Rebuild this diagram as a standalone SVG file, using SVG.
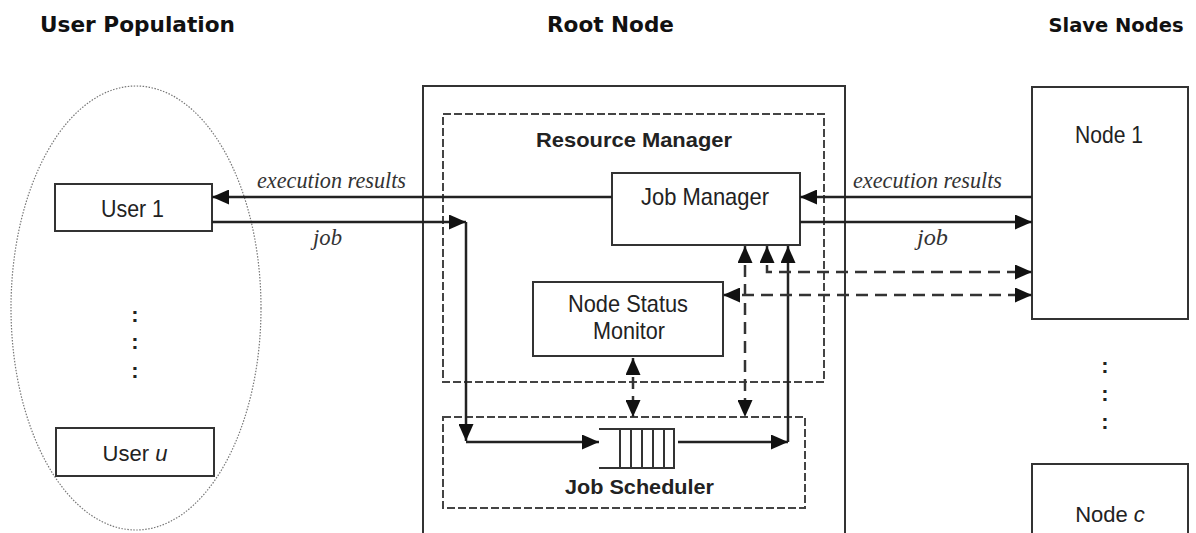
<svg xmlns="http://www.w3.org/2000/svg" width="1196" height="533" viewBox="0 0 1196 533">
<style>
.title{font-family:"DejaVu Sans",sans-serif;font-weight:bold;font-size:22px;fill:#111}
.lbl{font-family:"Liberation Sans",Arial,sans-serif;font-size:24px;fill:#222}
.lbl2{font-family:"Liberation Sans",Arial,sans-serif;font-size:22px;fill:#222}
.blbl{font-family:"Liberation Sans",Arial,sans-serif;font-size:21px;font-weight:bold;fill:#222}
.it{font-family:"Liberation Serif","Times New Roman",serif;font-style:italic;font-size:24px;fill:#333}
.box{fill:#fff;stroke:#333;stroke-width:2}
.dbox{fill:none;stroke:#444;stroke-width:2;stroke-dasharray:8 3}
.solid{fill:none;stroke:#222;stroke-width:2.5}
.dash{fill:none;stroke:#333;stroke-width:2.5;stroke-dasharray:12 7}
.dots{font-family:"Liberation Sans",Arial,sans-serif;font-size:22px;font-weight:bold;fill:#222}
</style>
<defs>
<marker id="ah" viewBox="0 0 17 15" refX="17" refY="7.5" markerWidth="17" markerHeight="15" orient="auto-start-reverse" markerUnits="userSpaceOnUse">
<path d="M0,0 L17,7.5 L0,15 z" fill="#111"/>
</marker>
</defs>
<rect width="1196" height="533" fill="#fff"/>

<g id="titles">
<text class="title" x="40" y="32" textLength="195" lengthAdjust="spacingAndGlyphs">User Population</text>
<text class="title" x="547" y="32" textLength="127" lengthAdjust="spacingAndGlyphs">Root Node</text>
<text class="title" x="1116" y="32" style="font-size:19.5px" text-anchor="middle">Slave Nodes</text>
</g>

<g id="user-population">
<ellipse cx="136" cy="308" rx="125" ry="222" fill="none" stroke="#777" stroke-width="1.2" stroke-dasharray="1.5 1.5"/>
</g>
<g id="user1">
<rect class="box" x="55" y="184" width="157" height="47"/>
<text class="lbl" x="101" y="217" textLength="63" lengthAdjust="spacingAndGlyphs">User 1</text>
</g>
<g id="user-dots">
<text class="dots" x="135" y="322" text-anchor="middle">:</text>
<text class="dots" x="135" y="349" text-anchor="middle">:</text>
<text class="dots" x="135" y="378" text-anchor="middle">:</text>
</g>
<g id="useru">
<rect class="box" x="56" y="428" width="158" height="48"/>
<text class="lbl2" x="135" y="461" text-anchor="middle">User <tspan font-style="italic">u</tspan></text>
</g>

<g id="root-node">
<rect class="box" x="423" y="86" width="422" height="460"/>
</g>
<g id="resource-manager">
<rect class="dbox" x="443" y="114" width="381" height="268"/>
<text class="blbl" x="536" y="147" textLength="196" lengthAdjust="spacingAndGlyphs">Resource Manager</text>
</g>
<g id="job-manager">
<rect class="box" x="612" y="173" width="188" height="72"/>
<text class="lbl" x="641" y="205" textLength="128" lengthAdjust="spacingAndGlyphs">Job Manager</text>
</g>
<g id="node-status-monitor">
<rect class="box" x="533" y="282" width="190" height="74"/>
<text class="lbl" x="568" y="312" textLength="120" lengthAdjust="spacingAndGlyphs">Node Status</text>
<text class="lbl" x="593" y="339" textLength="72" lengthAdjust="spacingAndGlyphs">Monitor</text>
</g>
<g id="job-scheduler">
<rect class="dbox" x="443" y="417" width="362" height="91"/>
<text class="blbl" x="565" y="494" textLength="149" lengthAdjust="spacingAndGlyphs">Job Scheduler</text>
<g fill="none" stroke="#333" stroke-width="2">
<path d="M599,429 H674 V468 H599"/>
<path d="M620,429 V468 M631,429 V468 M642,429 V468 M653,429 V468 M664,429 V468"/>
</g>
</g>

<g id="node1">
<rect class="box" x="1032" y="87" width="156" height="232"/>
<text class="lbl" x="1075" y="143" textLength="68" lengthAdjust="spacingAndGlyphs">Node 1</text>
</g>
<g id="node-dots">
<text class="dots" x="1105" y="373" text-anchor="middle">:</text>
<text class="dots" x="1105" y="401" text-anchor="middle">:</text>
<text class="dots" x="1105" y="429" text-anchor="middle">:</text>
</g>
<g id="nodec">
<rect class="box" x="1032" y="464" width="156" height="90"/>
<text class="lbl2" x="1110" y="522" text-anchor="middle">Node <tspan font-style="italic">c</tspan></text>
</g>

<g id="connectors">
<path class="solid" d="M612,197 H212" marker-end="url(#ah)"/>
<path class="solid" d="M1032,197 H800" marker-end="url(#ah)"/>
<path class="solid" d="M800,222 H1032" marker-end="url(#ah)"/>
<path class="solid" d="M212,222 H466" marker-end="url(#ah)"/>
<path class="solid" d="M466,222 V441" marker-end="url(#ah)"/>
<path class="solid" d="M466,442 H599" marker-end="url(#ah)"/>
<path class="solid" d="M678,442 H788" marker-end="url(#ah)"/>
<path class="solid" d="M788,442 V246" marker-end="url(#ah)"/>
<path class="dash" d="M745,246 V417" marker-start="url(#ah)" marker-end="url(#ah)"/>
<path class="dash" d="M767,246 V272 H1032" marker-start="url(#ah)" marker-end="url(#ah)"/>
<path class="dash" d="M723,295 H1032" marker-start="url(#ah)" marker-end="url(#ah)"/>
<path class="dash" d="M633,358 V417" marker-start="url(#ah)" marker-end="url(#ah)"/>
</g>

<g id="labels">
<text class="it" x="257" y="188" textLength="149" lengthAdjust="spacingAndGlyphs">execution results</text>
<text class="it" x="853" y="188" textLength="149" lengthAdjust="spacingAndGlyphs">execution results</text>
<text class="it" x="313" y="245" textLength="29" lengthAdjust="spacingAndGlyphs">job</text>
<text class="it" x="917" y="245" textLength="31" lengthAdjust="spacingAndGlyphs">job</text>
</g>
</svg>
